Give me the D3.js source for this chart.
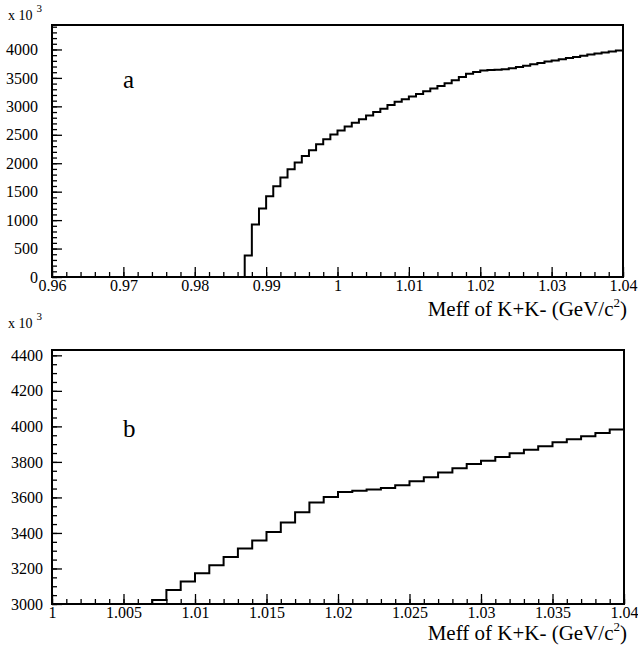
<!DOCTYPE html>
<html>
<head>
<meta charset="utf-8">
<script src="https://cdn.jsdelivr.net/npm/d3@7"></script>
<style>
  body { margin: 0; background: #fff; }
  svg text { font-family: "Liberation Serif", "DejaVu Serif", serif; fill: #000; }
</style>
</head>
<body>
<svg width="638" height="650"></svg>
<script>
// histogram bins: lower edge of each 0.001 GeV bin, and counts (x 10^3)
var binLow = [0.987, 0.988, 0.989, 0.990, 0.991, 0.992, 0.993, 0.994, 0.995, 0.996,
  0.997, 0.998, 0.999, 1.000, 1.001, 1.002, 1.003, 1.004, 1.005, 1.006,
  1.007, 1.008, 1.009, 1.010, 1.011, 1.012, 1.013, 1.014, 1.015, 1.016,
  1.017, 1.018, 1.019, 1.020, 1.021, 1.022, 1.023, 1.024, 1.025, 1.026,
  1.027, 1.028, 1.029, 1.030, 1.031, 1.032, 1.033, 1.034, 1.035, 1.036,
  1.037, 1.038, 1.039];
var counts = [380, 921, 1202, 1419, 1595, 1750, 1895, 2012, 2125, 2230,
  2335, 2420, 2505, 2575, 2645, 2710, 2772, 2840, 2900, 2958,
  3022, 3079, 3126, 3173, 3218, 3265, 3312, 3358, 3405, 3459,
  3516, 3572, 3602, 3630, 3638, 3644, 3653, 3668, 3691, 3713,
  3741, 3764, 3788, 3807, 3828, 3849, 3869, 3888, 3911, 3928,
  3945, 3963, 3982];
var binWidth = 0.001;

var xTicksA = [0.96, 0.97, 0.98, 0.99, 1.00, 1.01, 1.02, 1.03, 1.04];
var yTicksA = [0, 500, 1000, 1500, 2000, 2500, 3000, 3500, 4000];
var xTicksB = [1.000, 1.005, 1.010, 1.015, 1.020, 1.025, 1.030, 1.035, 1.040];
var yTicksB = [3000, 3200, 3400, 3600, 3800, 4000, 4200, 4400];

var svg = d3.select("svg");

var xfmt = function(d) { return String(+d.toFixed(3)); };

var panels = [
  {name: "a", left: 52, right: 623, top: 25, bottom: 277,
   xdom: [0.96, 1.04], ydom: [0, 4430], xt: xTicksA, yt: yTicksA,
   xminor: 0.002, yminor: 100,
   xpad: 3, ypad: 14, expY: 20, labelY: 88, titleY: 316},
  {name: "b", left: 52, right: 624, top: 350, bottom: 604,
   xdom: [1.0, 1.04], ydom: [3000, 4430], xt: xTicksB, yt: yTicksB,
   xminor: 0.001, yminor: 50,
   xpad: 3, ypad: 9, expY: 328, labelY: 437, titleY: 640}
];

panels.forEach(function(p, i) {
  var x = d3.scaleLinear().domain(p.xdom).range([p.left, p.right]);
  var y = d3.scaleLinear().domain(p.ydom).range([p.bottom, p.top]);
  var g = svg.append("g").attr("class", "panel-" + p.name);

  var clipId = "clip" + i;
  svg.append("clipPath").attr("id", clipId)
    .append("rect")
      .attr("x", p.left).attr("y", p.top)
      .attr("width", p.right - p.left).attr("height", p.bottom - p.top);

  // minor ticks
  var xm = d3.range(Math.round((p.xdom[1] - p.xdom[0]) / p.xminor) + 1)
    .map(function(k) { return p.xdom[0] + k * p.xminor; });
  var ym = d3.range(Math.floor((p.ydom[1] - p.ydom[0]) / p.yminor) + 1)
    .map(function(k) { return p.ydom[0] + k * p.yminor; });

  g.append("g")
    .attr("transform", "translate(0," + p.bottom + ")")
    .call(d3.axisBottom(x).tickValues(xm).tickSize(-5).tickFormat(""))
    .call(function(a) { a.select(".domain").remove(); })
    .selectAll("line").attr("stroke-width", 1.3);

  g.append("g")
    .attr("transform", "translate(" + p.left + ",0)")
    .call(d3.axisLeft(y).tickValues(ym).tickSize(-5).tickFormat(""))
    .call(function(a) { a.select(".domain").remove(); })
    .selectAll("line").attr("stroke-width", 1.3);

  // major ticks + labels
  var xa = g.append("g")
    .attr("transform", "translate(0," + p.bottom + ")")
    .call(d3.axisBottom(x).tickValues(p.xt).tickSize(-10).tickPadding(p.xpad).tickFormat(xfmt));
  xa.select(".domain").remove();
  xa.selectAll("line").attr("stroke-width", 1.3);
  xa.selectAll("text").attr("font-size", 16).attr("font-family", "Liberation Serif");

  var ya = g.append("g")
    .attr("transform", "translate(" + p.left + ",0)")
    .call(d3.axisLeft(y).tickValues(p.yt).tickSize(-10).tickPadding(p.ypad).tickFormat(d3.format("d")));
  ya.select(".domain").remove();
  ya.selectAll("line").attr("stroke-width", 1.3);
  ya.selectAll("text").attr("font-size", 16).attr("font-family", "Liberation Serif");

  // histogram as a step line
  var pts = [[binLow[0], p.ydom[0]]];
  binLow.forEach(function(b, k) {
    pts.push([b, counts[k]]);
    pts.push([b + binWidth, counts[k]]);
  });
  var line = d3.line()
    .x(function(d) { return x(d[0]); })
    .y(function(d) { return y(d[1]); });
  g.append("path")
    .datum(pts)
    .attr("clip-path", "url(#" + clipId + ")")
    .attr("d", line)
    .attr("fill", "none")
    .attr("stroke", "#000")
    .attr("stroke-width", 2)
    .attr("stroke-linejoin", "miter");

  // frame
  g.append("rect")
    .attr("x", p.left).attr("y", p.top)
    .attr("width", p.right - p.left).attr("height", p.bottom - p.top)
    .attr("fill", "none").attr("stroke", "#000").attr("stroke-width", 2);

  // exponent label
  var ex = g.append("text").attr("x", 8).attr("y", p.expY).attr("font-size", 14);
  ex.append("tspan").text("x 10");
  ex.append("tspan").attr("dx", 4).attr("dy", -8).attr("font-size", 11).text("3");

  // panel letter
  g.append("text").attr("x", 123).attr("y", p.labelY).attr("font-size", 25).text(p.name);

  // axis title
  var t = g.append("text").attr("x", 627).attr("y", p.titleY)
    .attr("text-anchor", "end").attr("font-size", 21);
  t.append("tspan").text("Meff of K+K- (GeV/c");
  t.append("tspan").attr("dy", -9).attr("font-size", 13).text("2");
  t.append("tspan").attr("dy", 9).text(")");
});
</script>
</body>
</html>
